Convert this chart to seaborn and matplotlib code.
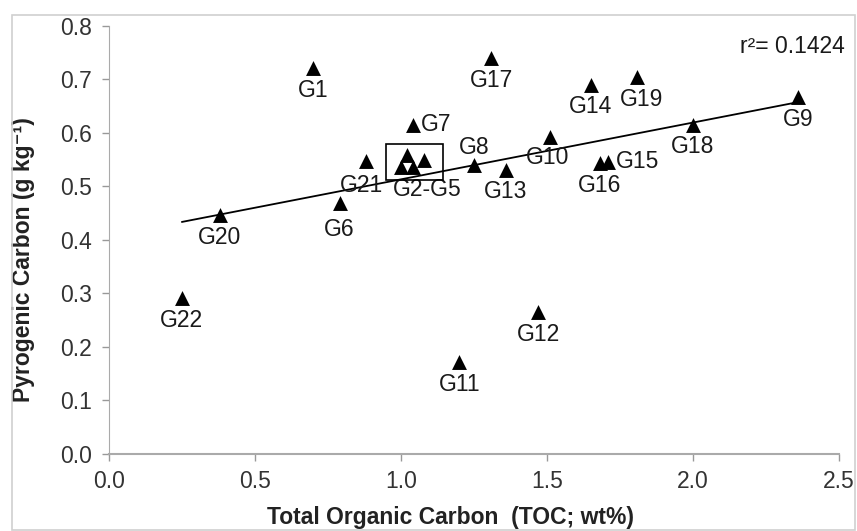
#!/usr/bin/env python

import numpy as np
import pandas as pd
import matplotlib
matplotlib.use('Agg')
import matplotlib.pyplot as plt
from matplotlib.patches import Rectangle
import seaborn as sns

# sample names, TOC (wt%) and pyrogenic carbon (g/kg)
samples = ['G1', 'G2', 'G3', 'G4', 'G5', 'G6', 'G7', 'G8', 'G9', 'G10', 'G11',
           'G12', 'G13', 'G14', 'G15', 'G16', 'G17', 'G18', 'G19', 'G20',
           'G21', 'G22']
toc = [0.70, 1.02, 1.00, 1.04, 1.08, 0.79, 1.04, 1.25, 2.36, 1.51, 1.20,
       1.47, 1.36, 1.65, 1.71, 1.68, 1.31, 2.00, 1.81, 0.38, 0.88, 0.25]
pyc = [0.721, 0.558, 0.536, 0.536, 0.549, 0.469, 0.615, 0.540, 0.667, 0.592,
       0.171, 0.265, 0.531, 0.690, 0.546, 0.543, 0.740, 0.615, 0.705, 0.446,
       0.547, 0.291]
boxed = ['G2', 'G3', 'G4', 'G5']
box_label = 'G2-G5'
r2_text = 'r\u00b2= 0.1424'
xticks = [0.0, 0.5, 1.0, 1.5, 2.0, 2.5]
yticks = [0.0, 0.1, 0.2, 0.3, 0.4, 0.5, 0.6, 0.7, 0.8]

df = pd.DataFrame({'sample': samples, 'toc': toc, 'pyc': pyc})

# label placement (pixel offsets from the marker, alignment)
default_off = (0, -22, 'center')
label_off = {
    'G6': (0, -27, 'center'),
    'G7': (8, 0, 'left'),
    'G8': (0, 18, 'center'),
    'G10': (-2, -20, 'center'),
    'G15': (8, 0, 'left'),
    'G19': (4, -23, 'center'),
    'G21': (-4, -24, 'center'),
}
fs = 16.5

sns.set_style('ticks')
plt.rcParams['font.family'] = ['Liberation Sans', 'DejaVu Sans']

fig = plt.figure(figsize=(8.57, 5.31), dpi=100)
ax = fig.add_axes([0.127, 0.1456, 0.852, 0.8054])

sns.regplot(data=df, x='toc', y='pyc', ax=ax, scatter=False, ci=None,
            truncate=True, line_kws={'color': 'black', 'lw': 1.3})
sns.scatterplot(data=df, x='toc', y='pyc', ax=ax, marker='^', s=115,
                color='black', edgecolor='black', linewidth=0, zorder=3)

for _, row in df.iterrows():
    if row['sample'] in boxed:
        continue
    dx, dy, ha = label_off.get(row['sample'], default_off)
    ax.annotate(row['sample'], (row['toc'], row['pyc']), xytext=(dx, dy),
                textcoords='offset pixels', ha=ha, va='center',
                fontsize=fs, color='#1a1a1a')

# box around the G2-G5 cluster
sub = df[df['sample'].isin(boxed)]
x0, x1 = sub['toc'].min() - 0.05, sub['toc'].max() + 0.064
y0, y1 = sub['pyc'].min() - 0.024, sub['pyc'].max() + 0.021
ax.add_patch(Rectangle((x0, y0), x1 - x0, y1 - y0, fill=False,
                       edgecolor='black', lw=1.2, zorder=4))
ax.annotate(box_label, ((x0 + x1) / 2, y0), xytext=(13, -10),
            textcoords='offset pixels', ha='center', va='center',
            fontsize=fs, color='#1a1a1a')

ax.text(1.008, 0.951, r2_text, transform=ax.transAxes, ha='right',
        va='center', fontsize=fs, color='#1a1a1a')

ax.set_xlim(0, 2.5)
ax.set_ylim(0, 0.8)
ax.set_xticks(xticks)
ax.set_yticks(yticks)
ax.set_xticklabels(['%.1f' % v for v in xticks])
ax.set_yticklabels(['%.1f' % v for v in yticks])
ax.tick_params(axis='both', labelsize=fs, colors='#999999',
               labelcolor='#333333', length=5, width=1, pad=7)
for side in ['top', 'right']:
    ax.spines[side].set_visible(False)
ax.spines['left'].set_color('#aaaaaa')
ax.spines['bottom'].set_color('#aaaaaa')
ax.spines['bottom'].set_linewidth(1.5)

ax.set_xlabel('Total Organic Carbon  (TOC; wt%)', fontsize=fs,
              fontweight='bold', color='#222222')
ax.set_ylabel('Pyrogenic Carbon (g kg\u207b\u00b9)', fontsize=fs,
              fontweight='bold', color='#222222')
ax.xaxis.set_label_coords(0.468, -0.123)
ax.yaxis.set_label_coords(-0.101, 0.455)

# thin grey frame around the whole picture
fig.patches.append(Rectangle((0.014, 0.002), 0.984, 0.97, fill=False,
                             edgecolor='#d0d0d0', lw=1.2,
                             transform=fig.transFigure, figure=fig))

fig.savefig('out.png', dpi=100)
